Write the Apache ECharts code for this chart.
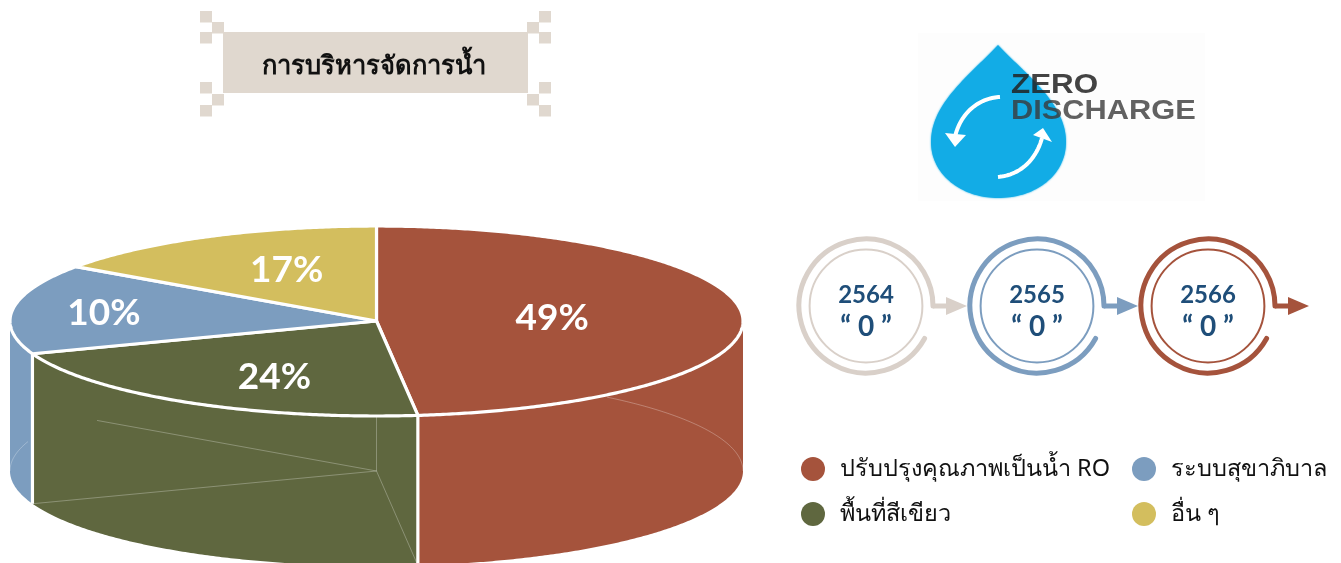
<!DOCTYPE html>
<html><head><meta charset="utf-8">
<style>html,body{margin:0;padding:0;background:#fff}#c{width:1341px;height:563px}</style>
<script src="https://cdn.jsdelivr.net/npm/echarts@6/dist/echarts.min.js"></script>
</head><body><div id="c"></div>
<script>
// ---- data ----
const titleText = 'การบริหารจัดการน้ำ';
const categories = ['ปรับปรุงคุณภาพเป็นน้ำ RO', 'พื้นที่สีเขียว', 'ระบบสุขาภิบาล', 'อื่น ๆ'];
const printedPercent = [49, 24, 10, 17];          // the numbers printed on the slices
const drawnShare = [48.2, 21.2, 15.3, 15.3];      // the wedge sizes as actually drawn in the picture
const years = ['2564', '2565', '2566'];
const yearValues = ['0', '0', '0'];

// ---- style ----
const sliceColors = ['#A5533C', '#5F673F', '#7C9DBF', '#D3BE5E'];
const ringColors = ['#D9D0C9', '#7C9DBF', '#A5533C'];
const FONT_THAI = '"Noto Sans","Liberation Sans","DejaVu Sans",sans-serif';
const DEPTH = 150 / 95;                            // pie height in axis units
const labelRadiusX = [0.48, 0.53, 0.75, 0.53];
const labelRadiusY = [0.48, 0.69, 0.69, 0.61];

const toRad = d => d * Math.PI / 180;
function rim(deg, r, drop) {
  return [r * Math.sin(toRad(deg)), r * Math.cos(toRad(deg)) - drop];
}
function arcPts(api, from, to, drop) {
  const pts = [], n = Math.max(2, Math.ceil(Math.abs(to - from) * 2));
  for (let i = 0; i <= n; i++) pts.push(api.coord(rim(from + (to - from) * i / n, 1, drop)));
  return pts;
}

function renderSlice(params, api) {
  const start = api.value(0) * 3.6, end = start + api.value(1) * 3.6;
  const si = params.seriesIndex, color = sliceColors[si];
  const children = [];
  const a = Math.max(start, 90), b = Math.min(end, 270);
  if (b > a) {
    children.push({ type: 'polygon', silent: true,
      shape: { points: arcPts(api, a, b, 0).concat(arcPts(api, b, a, DEPTH)) },
      style: { fill: color, stroke: null } });
  }
  if (end > 90 && end < 270) {
    const p = api.coord(rim(end, 1, 0)), q = api.coord(rim(end, 1, DEPTH));
    children.push({ type: 'line', silent: true, z2: 4,
      shape: { x1: p[0], y1: p[1], x2: q[0], y2: q[1] },
      style: { stroke: '#fff', lineWidth: 3.2 } });
  }
  children.push({ type: 'polygon', silent: true, z2: 5,
    shape: { points: [api.coord([0, 0])].concat(arcPts(api, start, end, 0)) },
    style: { fill: color, stroke: '#fff', lineWidth: 3.2, lineJoin: 'round' } });
  const mid = toRad((start + end) / 2);
  const lp = api.coord([labelRadiusX[si] * Math.sin(mid), labelRadiusY[si] * Math.cos(mid)]);
  children.push({ type: 'text', silent: true, z2: 10,
    style: { text: printedPercent[si] + '%', x: lp[0], y: lp[1],
      fill: '#fff', font: 'bold 37px Lato', textAlign: 'center', textVerticalAlign: 'middle' } });
  return { type: 'group', children };
}

function renderHidden(params, api) {
  const st = { stroke: 'rgba(255,255,255,0.28)', lineWidth: 1, fill: null };
  const c = api.coord([0, -DEPTH]), kids = [];
  const seg = (p, q) => kids.push({ type: 'line', silent: true, shape: { x1: p[0], y1: p[1], x2: q[0], y2: q[1] }, style: st });
  seg(api.coord([0, -1]), c);
  let cum = 0;
  drawnShare.slice(0, 3).forEach((s, i) => {
    cum += s;
    const e = api.coord(rim(cum * 3.6, 1, DEPTH));
    if (i === 2) seg([c[0] + (e[0] - c[0]) * 0.93, c[1] + (e[1] - c[1]) * 0.93], c);
    else seg(c, e);
  });
  kids.push({ type: 'polyline', silent: true, shape: { points: arcPts(api, 39, 90, DEPTH) }, style: st });
  kids.push({ type: 'polyline', silent: true, shape: { points: arcPts(api, 270, 288, DEPTH) }, style: st });
  return { type: 'group', children: kids };
}

let cum = 0;
const series = categories.map((name, i) => {
  const d = [cum, drawnShare[i]]; cum += drawnShare[i];
  return { type: 'custom', name, coordinateSystem: 'cartesian2d', z: 3,
    itemStyle: { color: sliceColors[i] }, renderItem: renderSlice, data: [d], silent: true };
});
series.push({ type: 'custom', name: 'edges', coordinateSystem: 'cartesian2d', z: 4,
  renderItem: renderHidden, data: [[0, 0]], silent: true });

// ---- decorations ----
const g = [];
const SAND = '#E0D8CF';
g.push({ type: 'rect', shape: { x: 223, y: 32, width: 305, height: 61 }, style: { fill: SAND } });
[[200,11],[212,22],[200,32],[200,82],[212,94],[200,105]].forEach(([x, y]) => {
  g.push({ type: 'rect', shape: { x, y, width: 12, height: 11.5 }, style: { fill: SAND } });
  g.push({ type: 'rect', shape: { x: 751 - x - 12, y, width: 12, height: 11.5 }, style: { fill: SAND } });
});

// logo
function bez(p0, c1, c2, p1) {
  const out = [];
  for (let i = 0; i <= 40; i++) {
    const t = i / 40, u = 1 - t;
    out.push([0, 1].map(k => u*u*u*p0[k] + 3*u*u*t*c1[k] + 3*u*t*t*c2[k] + t*t*t*p1[k]));
  }
  return out;
}
g.push({ type: 'rect', shape: { x: 918, y: 33, width: 287, height: 168 }, style: { fill: '#FDFDFD' } });
const dropPts = [].concat(
  bez([998,45],[970,75],[931,103],[931,142]),
  bez([931,142],[931,175],[962,198],[998,198]),
  bez([998,198],[1036,198],[1066,175],[1066,142]),
  bez([1066,142],[1066,103],[1026,75],[998,45]));
g.push({ type: 'polygon', shape: { points: dropPts }, style: { fill: '#12ACE6', shadowColor: '#12ACE6', shadowBlur: 2 } });
const W = '#FFFFFF';
g.push({ type: 'polyline', shape: { points: bez([1000,97],[978,98],[960,114],[955,137]) }, style: { fill: null, stroke: W, lineWidth: 4 } });
g.push({ type: 'polygon', shape: { points: [[945,133],[966,135],[955,147]] }, style: { fill: W } });
g.push({ type: 'polyline', shape: { points: bez([998,177],[1020,175],[1036,160],[1042,138]) }, style: { fill: null, stroke: W, lineWidth: 4 } });
g.push({ type: 'polygon', shape: { points: [[1033,135],[1052,142],[1043,128]] }, style: { fill: W } });
g.push({ type: 'text', x: 1011, y: 99, scaleX: 1.12, style: { text: 'ZERO', fill: '#222', font: 'bold 28px "Liberation Sans"', textVerticalAlign: 'bottom', opacity: 0.85, shadowColor: '#222', shadowBlur: 2 } });
g.push({ type: 'text', x: 1011, y: 125, scaleX: 1.10, style: { text: 'DISCHARGE', fill: '#3A3A3A', font: 'bold 28px "Liberation Sans"', textVerticalAlign: 'bottom', opacity: 0.8, shadowColor: '#3A3A3A', shadowBlur: 2 } });

// year rings
const CY = 306, R1 = 67, R2 = 56.4;
years.forEach((yr, i) => {
  const cx = 866 + 171 * i, col = ringColors[i];
  g.push({ type: 'circle', shape: { cx, cy: CY, r: R2 }, style: { fill: '#fff', stroke: col, lineWidth: 2 } });
  g.push({ type: 'arc', shape: { cx, cy: CY, r: R1, startAngle: toRad(29), endAngle: toRad(360), clockwise: true },
    style: { fill: null, stroke: col, lineWidth: 5, lineCap: 'round' } });
  g.push({ type: 'line', shape: { x1: cx + R1, y1: CY, x2: cx + 84, y2: CY }, style: { stroke: col, lineWidth: 5 } });
  g.push({ type: 'polygon', shape: { points: [[cx + 80, CY - 9], [cx + 101, CY], [cx + 80, CY + 9]] }, style: { fill: col } });
  g.push({ type: 'text', style: { text: yr, x: cx, y: 295, fill: '#1F4E79', font: 'bold 24px Lato', textAlign: 'center', textVerticalAlign: 'middle' } });
  g.push({ type: 'text', style: { text: '\u201C ' + yearValues[i] + ' \u201D', x: cx, y: 327, fill: '#1F4E79', font: 'bold 28px Lato', textAlign: 'center', textVerticalAlign: 'middle' } });
});
g.forEach(e => { e.silent = true; });

const legendBase = { orient: 'vertical', icon: 'circle', itemWidth: 24, itemHeight: 24, itemGap: 21, selectedMode: false,
  textStyle: { fontFamily: FONT_THAI, fontSize: 23.5, color: '#111', padding: [0, 0, 0, 10] } };

const chart = echarts.init(document.getElementById('c'), null, { renderer: 'canvas', width: 1341, height: 563 });
chart.setOption({
  animation: false,
  backgroundColor: '#fff',
  color: sliceColors,
  title: { text: titleText, left: 257, top: 49, z: 10,
    textStyle: { fontFamily: FONT_THAI, fontSize: 25.5, fontWeight: 600, color: '#111' } },
  grid: { left: 10, width: 733, top: 226, height: 190 },
  xAxis: { type: 'value', min: -1, max: 1, show: false },
  yAxis: { type: 'value', min: -1, max: 1, show: false },
  legend: [
    Object.assign({}, legendBase, { left: 796, top: 452, data: [categories[0], categories[1]] }),
    Object.assign({}, legendBase, { left: 1127, top: 452, data: [categories[2], categories[3]] })
  ],
  graphic: { elements: g },
  series
});
</script></body></html>
